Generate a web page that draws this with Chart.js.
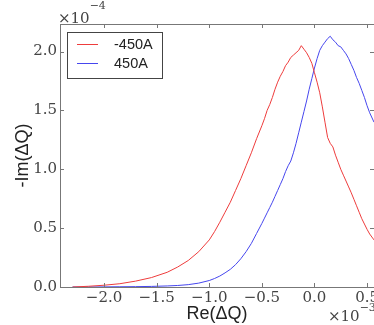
<!DOCTYPE html>
<html>
<head>
<meta charset="utf-8">
<script src="https://cdn.jsdelivr.net/npm/chart.js@4"></script>
<style>
html, body { margin: 0; padding: 0; background: #fff; overflow: hidden; }
canvas { display: block; }
</style>
</head>
<body>
<canvas id="chart" width="374" height="325"></canvas>
<script>
// Re(dQ) in units of 1e-3, shared by both series
const reQ = [-2.3, -2.15, -2.0, -1.85, -1.7, -1.55, -1.4, -1.3, -1.2, -1.1, -1.0, -0.95, -0.9, -0.85, -0.8, -0.75, -0.7, -0.65, -0.6, -0.55, -0.5,
  -0.475, -0.45, -0.425, -0.4, -0.375, -0.35, -0.325, -0.3, -0.275, -0.25, -0.225, -0.2, -0.175, -0.15, -0.125, -0.1, -0.075, -0.05, -0.025,
  0.0, 0.025, 0.05, 0.075, 0.1, 0.125, 0.15, 0.175, 0.2, 0.225, 0.25, 0.275, 0.3, 0.325, 0.35, 0.375, 0.4, 0.425, 0.45, 0.475, 0.5, 0.525, 0.566];

// -Im(dQ) in units of 1e-4
const imNeg450 = [0.0, 0.006, 0.015, 0.028, 0.05, 0.08, 0.125, 0.17, 0.225, 0.3, 0.4, 0.47, 0.55, 0.635, 0.72, 0.82, 0.92, 1.03, 1.14, 1.26, 1.37,
  1.43, 1.5, 1.55, 1.61, 1.68, 1.74, 1.79, 1.83, 1.88, 1.91, 1.95, 1.97, 1.99, 2.01, 2.05, 2.02, 1.99, 1.95, 1.9,
  1.82, 1.74, 1.65, 1.53, 1.4, 1.27, 1.22, 1.19, 1.12, 1.06, 1.0, 0.95, 0.9, 0.85, 0.8, 0.745, 0.69, 0.635, 0.58, 0.535, 0.49, 0.45, 0.4];
const imPos450 = [0.0, 0.0, 0.001, 0.002, 0.003, 0.005, 0.009, 0.013, 0.02, 0.033, 0.055, 0.072, 0.093, 0.12, 0.15, 0.19, 0.24, 0.3, 0.37, 0.455, 0.54,
  0.585, 0.63, 0.675, 0.72, 0.77, 0.82, 0.87, 0.92, 0.98, 1.03, 1.07, 1.14, 1.22, 1.31, 1.4, 1.49, 1.58, 1.68, 1.77,
  1.86, 1.94, 2.01, 2.05, 2.08, 2.11, 2.13, 2.1, 2.08, 2.05, 2.04, 2.01, 1.98, 1.94, 1.89, 1.84, 1.78, 1.73, 1.67, 1.61, 1.54, 1.48, 1.4];

const seriesLabels = ['-450A', '450A'];
const seriesColors = ['rgb(238,60,60)', 'rgb(70,70,238)'];
const xTicks = [-2.0, -1.5, -1.0, -0.5, 0.0, 0.5];
const yTicks = [0.0, 0.5, 1.0, 1.5, 2.0];

const tickFont = { family: 'DejaVu Serif', size: 15 };
const titleFont = { family: 'Liberation Sans', size: 18 };
const fmt = v => v.toFixed(1).replace('-', '\u2212');

function points(ys) {
  return reQ.map((x, i) => ({ x: x, y: ys[i] }));
}

const framePlugin = {
  id: 'frame',
  afterDraw(chart) {
    const { ctx, chartArea: a, scales: { x, y } } = chart;
    ctx.save();
    ctx.strokeStyle = '#777';
    ctx.lineWidth = 1;
    ctx.beginPath();
    ctx.moveTo(a.left, a.top + 0.5);
    ctx.lineTo(a.right, a.top + 0.5);
    x.ticks.forEach(t => {
      const px = Math.round(x.getPixelForValue(t.value)) + 0.5;
      ctx.moveTo(px, a.top); ctx.lineTo(px, a.top + 4);
      ctx.moveTo(px, a.bottom); ctx.lineTo(px, a.bottom - 4);
    });
    y.ticks.forEach(t => {
      const py = Math.round(y.getPixelForValue(t.value)) + 0.5;
      ctx.moveTo(a.left, py); ctx.lineTo(a.left + 4, py);
      ctx.moveTo(a.right, py); ctx.lineTo(a.right - 4, py);
    });
    ctx.stroke();

    // legend box
    ctx.fillStyle = '#fff';
    ctx.fillRect(67.5, 32.5, 95, 46);
    ctx.strokeStyle = '#444';
    ctx.strokeRect(67.5, 32.5, 95, 46);
    ctx.font = '14.5px "Liberation Sans"';
    ctx.textBaseline = 'middle';
    ctx.textAlign = 'left';
    seriesLabels.forEach((lab, i) => {
      const ly = 44.5 + i * 19;
      ctx.strokeStyle = seriesColors[i];
      ctx.beginPath();
      ctx.moveTo(77, ly); ctx.lineTo(98, ly);
      ctx.stroke();
      ctx.fillStyle = '#222';
      ctx.fillText(lab, 114, ly);
    });

    // offset multipliers
    ctx.fillStyle = '#444';
    ctx.textBaseline = 'alphabetic';
    ctx.font = '15px "DejaVu Serif"';
    ctx.fillText('\u00d710', 58, 23);
    const w1 = ctx.measureText('\u00d710').width;
    ctx.font = '11px "DejaVu Serif"';
    ctx.fillText('\u22124', 58 + w1, 9);
    ctx.font = '15px "DejaVu Serif"';
    ctx.fillText('\u00d710', 328, 321);
    const w2 = ctx.measureText('\u00d710').width;
    ctx.font = '11px "DejaVu Serif"';
    ctx.fillText('\u22123', 328 + w2, 311);
    ctx.restore();
  }
};

new Chart(document.getElementById('chart'), {
  type: 'line',
  data: {
    datasets: [
      { label: seriesLabels[0], data: points(imNeg450), borderColor: seriesColors[0], borderWidth: 1, pointRadius: 0, tension: 0, fill: false },
      { label: seriesLabels[1], data: points(imPos450), borderColor: seriesColors[1], borderWidth: 1, pointRadius: 0, tension: 0, fill: false }
    ]
  },
  options: {
    responsive: false,
    animation: false,
    layout: { padding: { top: 24, right: 0, left: 0, bottom: 0 } },
    plugins: { legend: { display: false }, tooltip: { enabled: false } },
    scales: {
      x: {
        type: 'linear',
        min: -2.419,
        max: 0.566,
        afterBuildTicks: s => { s.ticks = xTicks.map(v => ({ value: v })); },
        afterFit: s => { s.height = 38; s.paddingLeft = 0; s.paddingRight = 0; },
        ticks: { callback: v => fmt(v), font: tickFont, color: '#444', padding: 2, maxRotation: 0, autoSkip: false },
        grid: { drawOnChartArea: false, drawTicks: false },
        border: { color: '#777' },
        title: { display: true, text: 'Re(\u0394Q)', font: titleFont, color: '#222', padding: 0 }
      },
      y: {
        type: 'linear',
        min: 0,
        max: 2.234,
        afterBuildTicks: s => { s.ticks = yTicks.map(v => ({ value: v })); },
        afterFit: s => { s.width = 60; },
        ticks: { callback: v => fmt(v), font: tickFont, color: '#444', padding: 3 },
        grid: { drawOnChartArea: false, drawTicks: false },
        border: { color: '#777' },
        title: { display: true, text: '-Im(\u0394Q)', font: titleFont, color: '#222', padding: { top: 12, bottom: 0 } }
      }
    }
  },
  plugins: [framePlugin]
});
</script>
</body>
</html>
